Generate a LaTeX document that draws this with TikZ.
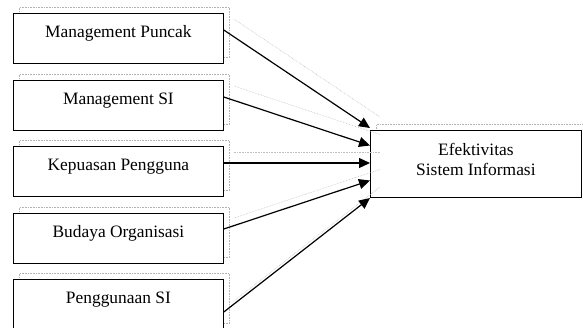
\documentclass[tikz,border=0pt]{standalone}
\usepackage{fontspec}
\setmainfont{Liberation Serif}
\usetikzlibrary{positioning, calc, shadows, arrows.meta}

\begin{document}
\begin{tikzpicture}[x=1pt, y=-1pt,
    font=\fontsize{17.4}{20}\selectfont,
    bayang/.style={general shadow={shadow xshift=6pt, shadow yshift=6pt, draw=black!30, densely dotted, line width=0.6pt}},
    kotak/.style={draw, fill=white, line width=0.8pt, minimum width=210pt, minimum height=50pt, inner sep=0pt,
        text height=24pt, text depth=26pt, anchor=north west, bayang},
    panah/.style={-{Triangle[length=11pt, width=10pt]}, line width=1.2pt,
        preaction={draw=black!25, densely dotted, line width=0.6pt, -, transform canvas={shift={(10pt,11pt)}}}}]

    \useasboundingbox (0,0) rectangle (583,327);

    % Boxes
    \node[kotak] (puncak) at (13,13) {Management Puncak};
    \node[kotak] (mansi) at (13,80) {Management SI};
    \node[kotak] (kepuasan) at (13,146) {Kepuasan Pengguna};
    \node[kotak] (budaya) at (13,213) {Budaya Organisasi};
    \node[kotak] (guna) at (13,279) {Penggunaan SI};
    \node[kotak, minimum width=211pt, minimum height=67pt, text height=45pt, text depth=22pt, align=center]
        (efek) at (370,130) {Efektivitas\\Sistem Informasi};

    % Arrows
    \draw[panah] ($(puncak.north east)+(0,17)$) -- ($(efek.north west)+(0,-2)$);
    \draw[panah] ($(mansi.north east)+(0,17)$) -- ($(efek.north west)+(0,15.5)$);
    \draw[panah] ($(kepuasan.north east)+(0,17)$) -- ($(efek.north west)+(0,33)$);
    \draw[panah] ($(budaya.north east)+(0,16)$) -- ($(efek.north west)+(0,50.5)$);
    \draw[panah] ($(guna.north east)+(0,33)$) -- ($(efek.north west)+(0,68)$);
\end{tikzpicture}
\end{document}
